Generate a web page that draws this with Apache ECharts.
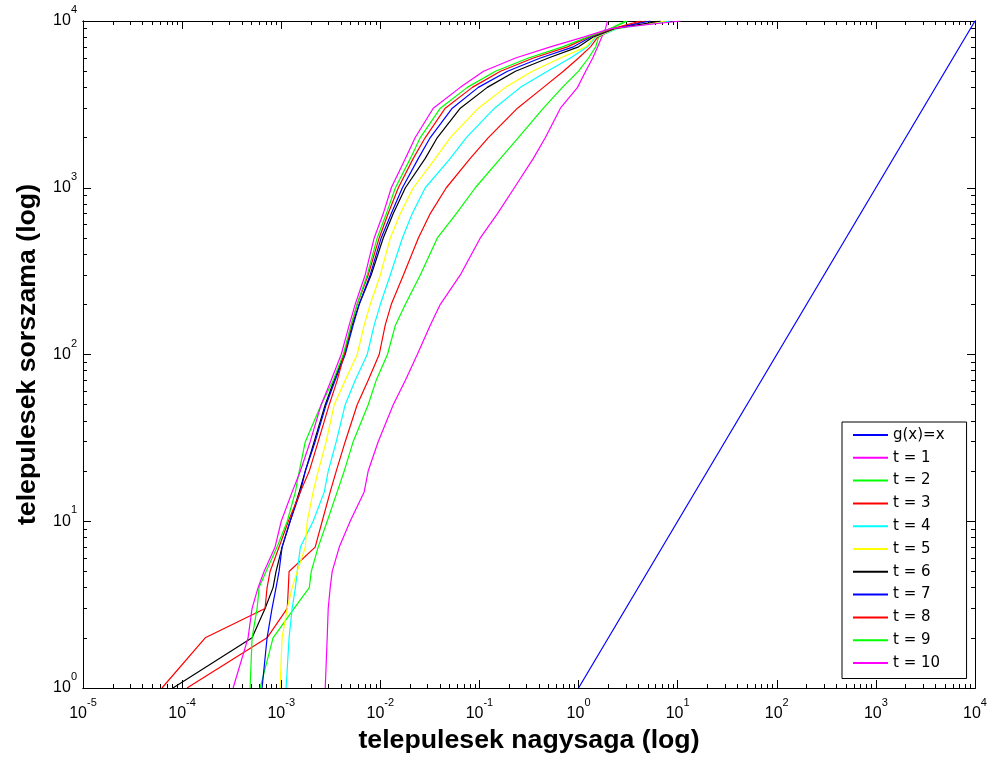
<!DOCTYPE html>
<html><head><meta charset="utf-8">
<script src="https://cdn.jsdelivr.net/npm/echarts@6/dist/echarts.min.js"></script>
<style>html,body{margin:0;padding:0;background:#fff}#c{width:994px;height:760px}</style>
</head><body><div id="c"></div>
<script>
// ---- data ----
const ranks = [1,2,3,4,5,7,10,15,20,30,50,70,100,150,200,300,500,700,1000,1500,2000,3000,4000,5000,6000,7000,8000,9000,10000];
const t1  = [2.78e-3,2.91e-3,2.98e-3,3.12e-3,3.27e-3,3.85e-3,4.96e-3,6.87e-3,7.54e-3,9.51e-3,0.0135,0.0179,0.0236,0.0319,0.0403,0.0641,0.102,0.152,0.225,0.350,0.463,0.656,0.977,1.18,1.39,1.56,1.71,1.87,1.96];
const t2  = [6.12e-4,8.27e-4,1.35e-3,1.92e-3,2.01e-3,2.36e-3,2.91e-3,3.67e-3,4.32e-3,5.32e-3,7.54e-3,9.08e-3,0.0118,0.0142,0.0179,0.0253,0.0376,0.0584,0.0908,0.163,0.247,0.442,0.687,1.00,1.26,1.49,1.59,2.10,2.98];
const t3  = [1.12e-4,7.20e-4,1.15e-3,1.18e-3,1.20e-3,2.20e-3,2.59e-3,3.12e-3,3.59e-3,4.42e-3,5.84e-3,7.54e-3,9.74e-3,0.0112,0.0129,0.0171,0.0242,0.0319,0.0463,0.0808,0.123,0.242,0.442,0.703,1.00,1.32,1.56,2.36,4.74];
const t4  = [1.12e-3,1.20e-3,1.29e-3,1.39e-3,1.45e-3,1.56e-3,2.10e-3,2.72e-3,2.98e-3,3.59e-3,4.42e-3,5.58e-3,7.37e-3,8.67e-3,0.0100,0.0126,0.0167,0.0210,0.0284,0.0508,0.0737,0.142,0.259,0.485,0.827,1.23,1.49,2.47,8.47];
const t5  = [9.74e-4,1.02e-3,1.15e-3,1.29e-3,1.45e-3,1.75e-3,1.83e-3,2.10e-3,2.36e-3,2.84e-3,3.42e-3,4.42e-3,5.84e-3,6.87e-3,7.90e-3,0.0100,0.0126,0.0159,0.0215,0.0359,0.0508,0.0974,0.183,0.342,0.656,1.18,1.45,2.36,7.54];
const t6  = [8.08e-5,5.08e-4,6.87e-4,8.27e-4,8.87e-4,1.02e-3,1.23e-3,1.52e-3,1.75e-3,2.15e-3,2.78e-3,3.42e-3,4.32e-3,5.20e-3,6.12e-3,8.08e-3,0.0107,0.0135,0.0179,0.0284,0.0376,0.0641,0.120,0.231,0.496,1.00,1.39,2.31,6.71];
const t7  = [6.41e-4,7.20e-4,8.08e-4,8.87e-4,9.51e-4,1.02e-3,1.23e-3,1.56e-3,1.75e-3,2.20e-3,2.84e-3,3.50e-3,4.42e-3,5.32e-3,6.12e-3,7.90e-3,0.0102,0.0129,0.0167,0.0242,0.0319,0.0532,0.0974,0.192,0.412,0.887,1.32,2.20,5.32];
const t8  = [6.26e-5,1.71e-4,6.87e-4,7.20e-4,7.72e-4,9.51e-4,1.18e-3,1.56e-3,1.92e-3,2.36e-3,3.05e-3,3.67e-3,4.32e-3,5.08e-3,5.84e-3,7.54e-3,9.74e-3,0.0120,0.0152,0.0215,0.0284,0.0452,0.0847,0.163,0.350,0.772,1.26,2.20,4.22];
const t9  = [4.85e-4,5.08e-4,5.71e-4,5.98e-4,7.03e-4,9.08e-4,1.15e-3,1.39e-3,1.52e-3,1.75e-3,2.53e-3,3.35e-3,4.22e-3,5.08e-3,5.84e-3,7.37e-3,9.29e-3,0.0115,0.0142,0.0201,0.0253,0.0403,0.0754,0.145,0.312,0.687,1.23,2.10,3.12];
const t10 = [3.27e-4,4.63e-4,5.08e-4,5.84e-4,6.71e-4,8.67e-4,1.00e-3,1.29e-3,1.56e-3,1.96e-3,2.53e-3,3.19e-3,4.03e-3,4.85e-3,5.58e-3,7.03e-3,8.67e-3,0.0107,0.0129,0.0179,0.0225,0.0342,0.0641,0.110,0.231,0.520,1.12,2.10,10.7];
const gxX = [1, 10000];
const gxY = [1, 10000];
const seriesNames = ['g(x)=x','t = 1','t = 2','t = 3','t = 4','t = 5','t = 6','t = 7','t = 8','t = 9','t = 10'];
const xMajor = [1e-5,1e-4,1e-3,1e-2,1e-1,1,10,100,1000,10000];
const yMajor = [1,10,100,1000,10000];
const xTitle = 'telepulesek nagysaga (log)';
const yTitle = 'telepulesek sorszama (log)';

// ---- styling ----
const colors = ['#0000ff','#ff00ff','#00ff00','#ff0000','#00ffff','#ffff00','#000000','#0000ff','#ff0000','#00ff00','#ff00ff'];
const FONT = 'Liberation Sans';
function minorOf(major){
  const out=[];
  for(let i=0;i<major.length-1;i++){for(let m=2;m<=9;m++){out.push(+(m*major[i]).toPrecision(6));}}
  return out;
}
const xMinor = minorOf(xMajor), yMinor = minorOf(yMajor);
const CLEAR = 'rgba(0,0,0,0)';
const rich = {
  h:{fontSize:16,lineHeight:6,fontFamily:FONT,color:CLEAR},
  e:{fontSize:11,lineHeight:6,fontFamily:FONT,color:'#000'},
  b:{fontSize:16,lineHeight:16,fontFamily:FONT,color:'#000'},
  g:{fontSize:11,lineHeight:16,fontFamily:FONT,color:CLEAR}
};
const fmt = v => { const e = Math.round(Math.log10(v)); return '{h|10}{e|' + e + '}\n{b|10}{g|' + e + '}'; };
const titleStyle = {fontFamily:FONT,fontSize:26.7,fontWeight:'bold',color:'#000'};
function axis(kind, pos, major, minor, isMain, isMinor){
  const vals = isMinor ? minor : major;
  const a = {
    type:'log', logBase:10, position:pos,
    min: major[0], max: major[major.length-1],
    axisLine:{show:true,lineStyle:{color:'#000',width:1}},
    axisTick:{show:true,inside:true,length:isMinor?4:8,customValues:vals,lineStyle:{color:'#000',width:1}},
    axisLabel:{show:false},
    splitLine:{show:false}, minorTick:{show:false}, minorSplitLine:{show:false}
  };
  if(isMain){
    a.axisLabel = {show:true,customValues:major,formatter:fmt,rich:rich,margin:kind==='x'?12:6,
      padding: kind==='y' ? [0,0,6,0] : 0};
    a.name = kind==='x'?xTitle:yTitle;
    a.nameLocation='middle';
    a.nameGap = kind==='x'?37:42;
    a.nameTextStyle = titleStyle;
  }
  return a;
}
const series = [];
series.push({name:seriesNames[0],type:'line',xAxisIndex:0,yAxisIndex:0,symbol:'none',
  data:gxX.map((x,i)=>[x,gxY[i]]),lineStyle:{color:colors[0],width:1.2},itemStyle:{color:colors[0]}});
[t1,t2,t3,t4,t5,t6,t7,t8,t9,t10].forEach((xs,k)=>{
  series.push({name:seriesNames[k+1],type:'line',xAxisIndex:0,yAxisIndex:0,symbol:'none',
    data:xs.map((x,i)=>[x,ranks[i]]),lineStyle:{color:colors[k+1],width:1.2},itemStyle:{color:colors[k+1]}});
});
const chart = echarts.init(document.getElementById('c'),null,{renderer:'canvas'});
chart.setOption({
  animation:false,
  backgroundColor:'#fff',
  grid:{left:83,right:19,top:21,bottom:72,containLabel:false},
  xAxis:[
    axis('x','bottom',xMajor,xMinor,true,false),
    axis('x','bottom',xMajor,xMinor,false,true),
    axis('x','top',xMajor,xMinor,false,false),
    axis('x','top',xMajor,xMinor,false,true)
  ],
  yAxis:[
    axis('y','left',yMajor,yMinor,true,false),
    axis('y','left',yMajor,yMinor,false,true),
    axis('y','right',yMajor,yMinor,false,false),
    axis('y','right',yMajor,yMinor,false,true)
  ],
  legend:{
    orient:'vertical',left:842,top:422,
    data:seriesNames,
    itemWidth:35,itemHeight:15,itemGap:7.8,
    padding:[5.5,22,8,10],
    backgroundColor:'#fff',borderColor:'#000',borderWidth:1,borderRadius:0,
    itemStyle:{opacity:0,color:CLEAR,borderWidth:0},
    lineStyle:{width:2},
    textStyle:{fontFamily:'DejaVu Sans',fontSize:15,color:'#000'},
    selectedMode:false
  },
  series:series
});
</script></body></html>
